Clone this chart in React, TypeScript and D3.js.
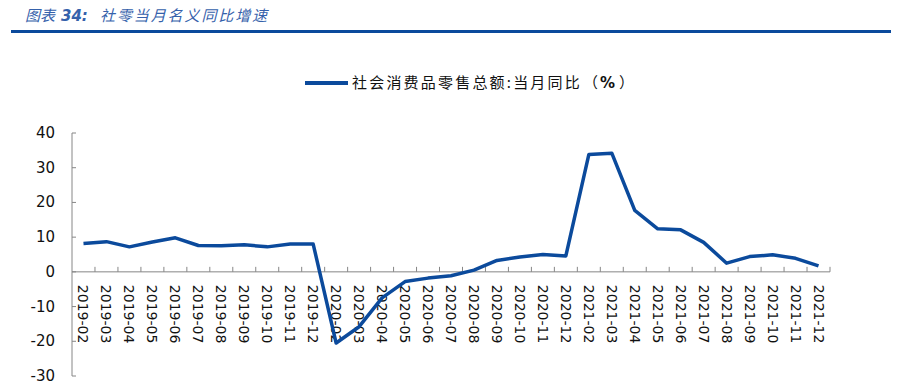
import React from "react";
import * as d3 from "d3";

const categories = [
  "2019-02","2019-03","2019-04","2019-05","2019-06","2019-07","2019-08","2019-09","2019-10","2019-11","2019-12",
  "2020-02","2020-03","2020-04","2020-05","2020-06","2020-07","2020-08","2020-09","2020-10","2020-11","2020-12",
  "2021-02","2021-03","2021-04","2021-05","2021-06","2021-07","2021-08","2021-09","2021-10","2021-11","2021-12",
];
const values = [
  8.2, 8.7, 7.2, 8.6, 9.8, 7.6, 7.5, 7.8, 7.2, 8.0, 8.0,
  -20.5, -15.8, -7.5, -2.8, -1.8, -1.1, 0.5, 3.3, 4.3, 5.0, 4.6,
  33.8, 34.2, 17.7, 12.4, 12.1, 8.5, 2.5, 4.4, 4.9, 3.9, 1.7,
];
const yTicks = [-30, -20, -10, 0, 10, 20, 30, 40];
const titlePrefix = "图表";
const titleNumber = "34:";
const titleText = "社零当月名义同比增速";
const legendLabel = "社会消费品零售总额:当月同比";
const legendUnit = "%";

export default function App() {
  const W = 899, H = 386;
  const left = 72, right = 830, top = 133, bottom = 376;
  const x = d3.scaleBand<string>().domain(categories).range([left, right]);
  const y = d3.scaleLinear().domain([-30, 40]).range([bottom, top]);
  const line = d3.line<number>()
    .x((_, i) => (x(categories[i]) as number) + x.bandwidth() / 2)
    .y((d) => y(d));
  const y0 = y(0);
  const axisColor = "#868686";
  const blue = "#0b4a9c";
  const cjk = "'Noto Sans CJK SC', 'DejaVu Sans', sans-serif";
  return (
    <svg width={W} height={H} style={{ position: "absolute", left: 0, top: 0 }}>
      <rect width={W} height={H} fill="#fff" />
      <g fill="#3561ab" fontStyle="italic" fontSize={15} fontFamily={cjk}>
        <text x={25} y={21}>{titlePrefix}</text>
        <text x={61} y={21} fontWeight="bold" fontFamily="'DejaVu Sans', sans-serif" fontSize={15}>{titleNumber}</text>
        <text x={100} y={21} letterSpacing={1.9}>{titleText}</text>
      </g>
      <rect x={11} y={30} width={880} height={3} fill="#0b4a9c" />
      {/* legend */}
      <line x1={305} x2={348} y1={83} y2={83} stroke={blue} strokeWidth={4} />
      <text x={352} y={88} fontSize={15} fill="#111" fontFamily={cjk} letterSpacing={2.2}>{legendLabel}</text>
      <text x={583} y={88} fontSize={15} fill="#111" fontFamily={cjk}>（</text>
      <text x={600} y={88} fontSize={15} fill="#111" fontWeight="bold" fontFamily="'DejaVu Sans', sans-serif">{legendUnit}</text>
      <text x={619} y={88} fontSize={15} fill="#111" fontFamily={cjk}>）</text>
      {/* y axis */}
      <line x1={left} x2={left} y1={top} y2={bottom} stroke={axisColor} strokeWidth={1} />
      {yTicks.map((t) => (
        <g key={t}>
          <line x1={left} x2={left + 4} y1={y(t)} y2={y(t)} stroke={axisColor} />
          <text x={55} y={y(t) + 5} fontSize={15} textAnchor="end" fill="#111"
            fontFamily="'DejaVu Sans', Verdana, sans-serif">{t}</text>
        </g>
      ))}
      {/* x axis at 0 */}
      <line x1={left} x2={right} y1={y0} y2={y0} stroke={axisColor} strokeWidth={1} />
      {categories.map((c, i) => (
        <line key={"t" + c} x1={left + x.step() * (i + 1)} x2={left + x.step() * (i + 1)} y1={y0 - 5} y2={y0} stroke={axisColor} />
      ))}
      {categories.map((c) => {
        const cx = (x(c) as number) + x.bandwidth() / 2;
        return (
          <text key={c} transform={`translate(${cx - 5},${y0 + 13}) rotate(90)`} fontSize={14} fill="#111"
            fontFamily="'DejaVu Sans', Verdana, sans-serif">{c}</text>
        );
      })}
      <path d={line(values) || ""} fill="none" stroke={blue} strokeWidth={3.5} strokeLinejoin="round" />
    </svg>
  );
}
